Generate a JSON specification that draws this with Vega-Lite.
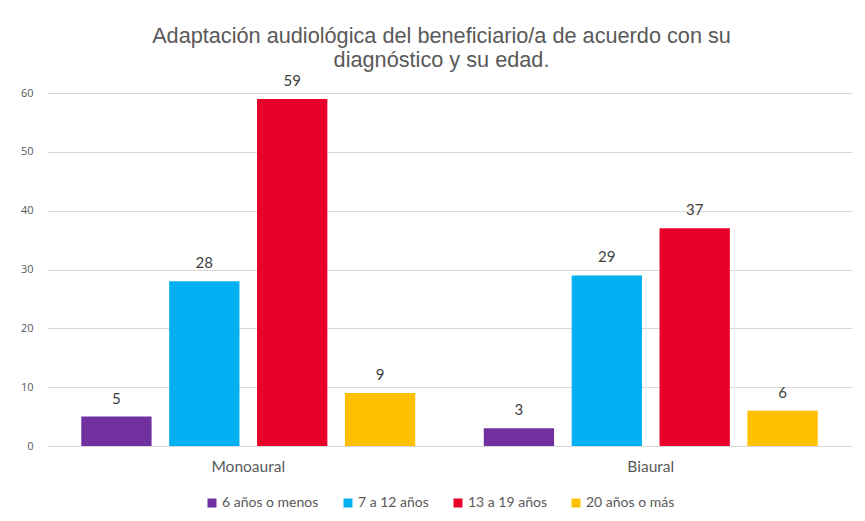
{
  "$schema": "https://vega.github.io/schema/vega-lite/v6.json",
  "autosize": {"type": "none"},
  "width": 805,
  "height": 353,
  "padding": {"left": 47, "top": 93, "right": 13, "bottom": 75},
  "background": "white",
  "title": {
    "text": ["Adaptación audiológica del beneficiario/a de acuerdo con su", "diagnóstico y su edad."],
    "anchor": "middle",
    "dx": -8,
    "offset": 2,
    "font": "Liberation Sans",
    "fontSize": 21.7,
    "fontWeight": "normal",
    "lineHeight": 24,
    "color": "#595959"
  },
  "data": {
    "values": [
      {"tipo": "Monoaural", "edad": "6 años o menos", "valor": 5},
      {"tipo": "Monoaural", "edad": "7 a 12 años", "valor": 28},
      {"tipo": "Monoaural", "edad": "13 a 19 años", "valor": 59},
      {"tipo": "Monoaural", "edad": "20 años o más", "valor": 9},
      {"tipo": "Biaural", "edad": "6 años o menos", "valor": 3},
      {"tipo": "Biaural", "edad": "7 a 12 años", "valor": 29},
      {"tipo": "Biaural", "edad": "13 a 19 años", "valor": 37},
      {"tipo": "Biaural", "edad": "20 años o más", "valor": 6}
    ]
  },
  "encoding": {
    "x": {
      "field": "tipo", "type": "nominal", "sort": ["Monoaural", "Biaural"],
      "scale": {"paddingInner": 0, "paddingOuter": 0},
      "axis": {"title": null, "labelAngle": 0, "domain": false, "ticks": false, "labelPadding": 13, "labelFont": "Lato", "labelFontSize": 15.5, "labelColor": "#595959"}
    },
    "xOffset": {
      "field": "edad", "type": "nominal",
      "sort": ["6 años o menos", "7 a 12 años", "13 a 19 años", "20 años o más"],
      "scale": {"paddingInner": 0.2, "paddingOuter": 0.39}
    },
    "y": {
      "field": "valor", "type": "quantitative",
      "scale": {"domain": [0, 60], "nice": false},
      "axis": {"title": null, "values": [0, 10, 20, 30, 40, 50, 60], "labelOverlap": false, "domain": false, "ticks": false, "labelPadding": 14, "labelFont": "Open Sans", "labelFontSize": 11, "labelColor": "#595959", "gridColor": "#d9d9d9", "gridWidth": 1}
    }
  },
  "layer": [
    {
      "mark": {"type": "bar"},
      "encoding": {
        "color": {
          "field": "edad", "type": "nominal",
          "sort": ["6 años o menos", "7 a 12 años", "13 a 19 años", "20 años o más"],
          "scale": {"domain": ["6 años o menos", "7 a 12 años", "13 a 19 años", "20 años o más"], "range": ["#7030A0", "#00B0F0", "#E8002A", "#FFC000"]},
          "legend": {
            "title": null, "orient": "none", "direction": "horizontal",
            "legendX": 158, "legendY": 403,
            "symbolType": "square", "symbolSize": 81, "symbolStrokeWidth": 0,
            "labelFont": "Lato", "labelFontSize": 14, "labelColor": "#595959",
            "columnPadding": 22, "labelOffset": 3
          }
        }
      }
    },
    {
      "mark": {"type": "text", "dy": -10, "baseline": "bottom", "font": "Lato", "fontSize": 15, "color": "#404040"},
      "encoding": {"text": {"field": "valor", "type": "quantitative"}}
    }
  ],
  "config": {"view": {"stroke": null}}
}
